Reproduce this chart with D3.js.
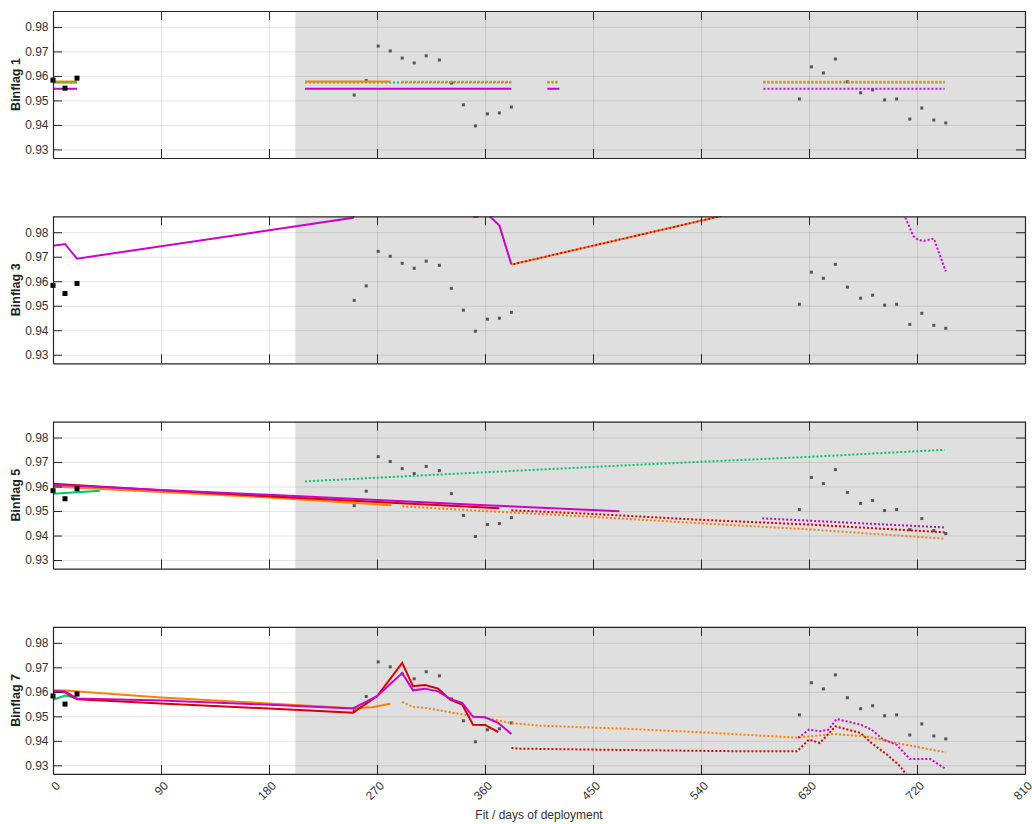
<!DOCTYPE html>
<html>
<head>
<meta charset="utf-8">
<script src="https://cdn.jsdelivr.net/npm/d3@7"></script>
<style>
  body { margin: 0; background: #fff; }
  text { font-family: "Liberation Sans", Arial, Helvetica, sans-serif; }
</style>
</head>
<body>
<svg id="chart" width="1032" height="824"></svg>
<script>

// reference samples (gray) and calibration points (black)
var ref_days = [251, 261, 271, 281, 291, 301, 311, 322, 332, 342, 352, 362, 372, 382,
                622, 632, 642, 652, 662, 673, 683, 693, 703, 714, 724, 734, 744];
var ref_vals = [0.9522, 0.9581, 0.9722, 0.9702, 0.9673, 0.9653, 0.9682, 0.9665, 0.9571, 0.9482, 0.9396, 0.9445, 0.9449, 0.9473,
                0.9506, 0.9637, 0.9612, 0.9669, 0.9576, 0.9531, 0.9543, 0.9502, 0.9506, 0.9424, 0.9469, 0.9420, 0.9408];
var cal_days = [0, 10, 20];
var cal_vals = [0.9583, 0.9550, 0.9591];

var x_ticks = [0, 90, 180, 270, 360, 450, 540, 630, 720, 810];
var y_ticks = [0.93, 0.94, 0.95, 0.96, 0.97, 0.98];
var shade_start = 202;

// fitted series, [day, value], null = gap
// Binflag 1
var bf1_green_solid   = [[0, 0.9573], [20, 0.9573]];
var bf1_green_dot     = [[210, 0.9573], [382, 0.9573], null, [412, 0.9573], [422, 0.9573], null, [592, 0.9573], [743, 0.9573]];
var bf1_orange_solid  = [[0, 0.9577], [20, 0.9577], null, [210, 0.9577], [281, 0.9577]];
var bf1_orange_dot    = [[291, 0.9576], [382, 0.9576], null, [412, 0.9576], [422, 0.9576], null, [592, 0.9576], [743, 0.9576]];
var bf1_magenta_solid = [[0, 0.9548], [20, 0.9548], null, [210, 0.9548], [382, 0.9548], null, [412, 0.9548], [422, 0.9548]];
var bf1_magenta_dot   = [[592, 0.9548], [743, 0.9548]];

// Binflag 3
var bf3_magenta_solid = [[0, 0.9745], [10, 0.9752], [20, 0.9692], [250, 0.9859], [262, 1.0], [345, 1.0], [351, 0.9862],
                         [354, 0.9863], [358, 0.990], [361, 0.990], [364, 0.9865], [372, 0.9827], [382, 0.9668]];
var bf3_extrap_dot    = [[382, 0.9668], [570, 0.9881]];
var bf3_magenta_dot   = [[709, 0.9875], [717, 0.9784], [721, 0.9768], [726, 0.9765], [734, 0.9774], [744, 0.9640]];

// Binflag 5
var bf5_green_solid   = [[0, 0.9571], [20, 0.9577], [39, 0.9583]];
var bf5_green_dot     = [[210, 0.9621], [306, 0.9645], [450, 0.9680], [540, 0.9701], [630, 0.9721], [743, 0.9750]];
var bf5_orange_solid  = [[0, 0.9600], [90, 0.9578], [180, 0.9555], [282, 0.9524]];
var bf5_orange_dot    = [[291, 0.9519], [360, 0.9500], [450, 0.9476], [540, 0.9450], [630, 0.9425], [743, 0.9387]];
var bf5_red_solid     = [[0, 0.9611], [90, 0.9585], [180, 0.9560], [270, 0.9537], [372, 0.9511]];
var bf5_red_dot       = [[382, 0.9503], [450, 0.9488], [540, 0.9464], [630, 0.9445], [743, 0.9413]];
var bf5_magenta_solid = [[0, 0.9607], [90, 0.9586], [180, 0.9566], [270, 0.9545], [360, 0.9524], [472, 0.9499]];
var bf5_magenta_dot   = [[591, 0.9470], [743, 0.9433]];

// Binflag 7
var bf7_green_solid   = [[0, 0.9567], [10, 0.9585], [20, 0.9575]];
var bf7_orange_solid  = [[0, 0.9606], [10, 0.9605], [90, 0.9577], [180, 0.9552], [250, 0.9533], [266, 0.9537], [281, 0.9551]];
var bf7_orange_dot    = [[291, 0.9559], [300, 0.9538], [311, 0.9534], [334, 0.9514], [360, 0.9494], [381, 0.9473], [406, 0.9462],
                         [434, 0.9457], [473, 0.9450], [540, 0.9435], [620, 0.9413], [650, 0.9428], [678, 0.9418], [703, 0.9391], [744, 0.9353]];
var bf7_red_solid     = [[0, 0.9600], [10, 0.9598], [20, 0.9570], [90, 0.9552], [180, 0.9532], [250, 0.9515], [270, 0.9582],
                         [291, 0.9718], [300, 0.9623], [310, 0.9628], [321, 0.9613], [331, 0.9568], [341, 0.9548], [350, 0.9466],
                         [360, 0.9465], [371, 0.9436]];
var bf7_red_dot       = [[382, 0.9371], [390, 0.9368], [470, 0.9363], [560, 0.9358], [620, 0.9357], [630, 0.9405], [639, 0.9391],
                         [652, 0.9459], [673, 0.9432], [682, 0.9391], [695, 0.9344], [706, 0.9296], [712, 0.9255]];
var bf7_magenta_solid = [[0, 0.9603], [10, 0.9601], [20, 0.9573], [90, 0.9565], [180, 0.9547], [250, 0.9532], [270, 0.9582],
                         [291, 0.9677], [300, 0.9606], [310, 0.9613], [321, 0.9602], [331, 0.9571], [341, 0.9555], [350, 0.9498],
                         [360, 0.9496], [371, 0.9473], [382, 0.9428]];
var bf7_magenta_dot   = [[621, 0.9412], [630, 0.9446], [639, 0.9439], [646, 0.9445], [653, 0.9489], [673, 0.9466], [682, 0.9446],
                         [692, 0.9405], [703, 0.9384], [714, 0.9326], [731, 0.9326], [744, 0.9285]];

var GREEN = "#00c864", ORANGE = "#ff8000", RED = "#d40000", MAGENTA = "#cc00cc";

var panels = [
  { label: "Binflag 1", series: [
      { data: bf1_green_solid, color: GREEN },
      { data: bf1_green_dot, color: GREEN, dot: true },
      { data: bf1_orange_solid, color: ORANGE },
      { data: bf1_orange_dot, color: ORANGE, dot: true },
      { data: bf1_magenta_solid, color: MAGENTA },
      { data: bf1_magenta_dot, color: MAGENTA, dot: true } ] },
  { label: "Binflag 3", series: [
      { data: bf3_extrap_dot, color: ORANGE, dot: true },
      { data: bf3_extrap_dot, color: RED, dot: true, offset: 2 },
      { data: bf3_magenta_solid, color: MAGENTA },
      { data: bf3_magenta_dot, color: MAGENTA, dot: true } ] },
  { label: "Binflag 5", series: [
      { data: bf5_green_solid, color: GREEN },
      { data: bf5_green_dot, color: GREEN, dot: true },
      { data: bf5_orange_solid, color: ORANGE },
      { data: bf5_orange_dot, color: ORANGE, dot: true },
      { data: bf5_red_solid, color: RED },
      { data: bf5_red_dot, color: RED, dot: true },
      { data: bf5_magenta_solid, color: MAGENTA },
      { data: bf5_magenta_dot, color: MAGENTA, dot: true } ] },
  { label: "Binflag 7", series: [
      { data: bf7_green_solid, color: GREEN },
      { data: bf7_orange_solid, color: ORANGE },
      { data: bf7_orange_dot, color: ORANGE, dot: true },
      { data: bf7_red_solid, color: RED },
      { data: bf7_red_dot, color: RED, dot: true },
      { data: bf7_magenta_solid, color: MAGENTA },
      { data: bf7_magenta_dot, color: MAGENTA, dot: true } ] }
];

/// layout
var left = 53, plotW = 972, plotH = 147, firstTop = 11, step = 205.3;
var axisColor = "#262626", textColor = "#333";

var svg = d3.select("#chart");

var x = d3.scaleLinear().domain([0, 810]).range([0, plotW]);
var y = d3.scaleLinear().domain([0.9265, 0.9865]).range([plotH, 0]);

var line = d3.line()
    .defined(function(d) { return d !== null; })
    .x(function(d) { return x(d[0]); })
    .y(function(d) { return y(d[1]); });

panels.forEach(function(p, i) {
  var top = firstTop + i * step;
  var g = svg.append("g").attr("transform", "translate(" + left + "," + top + ")");

  svg.append("clipPath").attr("id", "clip" + i)
    .append("rect").attr("width", plotW).attr("height", plotH);

  // fit window shading
  g.append("rect")
    .attr("x", x(shade_start)).attr("y", 0)
    .attr("width", x(810) - x(shade_start)).attr("height", plotH)
    .attr("fill", "#dfdfdf");

  // grid
  g.append("g").attr("class", "grid")
    .attr("transform", "translate(0," + plotH + ")")
    .call(d3.axisBottom(x).tickValues(x_ticks).tickSize(-plotH).tickFormat(""))
    .call(function(s) { s.select(".domain").remove(); });
  g.append("g").attr("class", "grid")
    .call(d3.axisLeft(y).tickValues(y_ticks).tickSize(-plotW).tickFormat(""))
    .call(function(s) { s.select(".domain").remove(); });
  g.selectAll(".grid line").attr("stroke", "rgba(0,0,0,0.1)").attr("stroke-width", 1);

  var plot = g.append("g").attr("clip-path", "url(#clip" + i + ")");

  // reference samples
  plot.selectAll("rect.ref")
    .data(ref_days)
    .enter().append("rect")
      .attr("class", "ref")
      .attr("x", function(d) { return x(d) - 1.5; })
      .attr("y", function(d, j) { return y(ref_vals[j]) - 1.5; })
      .attr("width", 3).attr("height", 3)
      .attr("fill", "#555");

  // fits
  p.series.forEach(function(s) {
    plot.append("path")
      .datum(s.data)
      .attr("d", line)
      .attr("fill", "none")
      .attr("stroke", s.color)
      .attr("stroke-width", 2)
      .attr("stroke-dasharray", s.dot ? "2,2" : null)
      .attr("stroke-dashoffset", s.offset || 0);
  });

  // calibration points (not clipped, sit on the left edge)
  g.selectAll("rect.cal")
    .data(cal_days)
    .enter().append("rect")
      .attr("class", "cal")
      .attr("x", function(d) { return x(d) - 2.5; })
      .attr("y", function(d, j) { return y(cal_vals[j]) - 2.5; })
      .attr("width", 5).attr("height", 5)
      .attr("fill", "#000");

  // box with inward ticks
  var ax = [
    g.append("g").attr("transform", "translate(0," + plotH + ")")
      .call(d3.axisBottom(x).tickValues(x_ticks).tickSizeInner(-9).tickSizeOuter(0).tickFormat("")),
    g.append("g")
      .call(d3.axisTop(x).tickValues(x_ticks).tickSizeInner(-9).tickSizeOuter(0).tickFormat("")),
    g.append("g")
      .call(d3.axisLeft(y).tickValues(y_ticks).tickSizeInner(-9).tickSizeOuter(0).tickPadding(4.5).tickFormat(d3.format(".2f"))),
    g.append("g").attr("transform", "translate(" + plotW + ",0)")
      .call(d3.axisRight(y).tickValues(y_ticks).tickSizeInner(-9).tickSizeOuter(0).tickFormat(""))
  ];
  ax.forEach(function(a) {
    a.selectAll("path.domain").attr("stroke", axisColor).attr("stroke-width", 1.2);
    a.selectAll("line").attr("stroke", axisColor);
    a.selectAll("text").attr("fill", textColor).style("font-size", "12px");
  });

  // x tick labels only on last panel
  if (i === panels.length - 1) {
    g.append("g").selectAll("text")
      .data(x_ticks)
      .enter().append("text")
        .attr("transform", function(d) { return "translate(" + (x(d) + 5) + "," + (plotH + 9.7) + ") rotate(-45)"; })
        .attr("text-anchor", "end")
        .attr("dy", "0.35em")
        .attr("fill", textColor)
        .style("font-size", "12px")
        .text(function(d) { return d; });

    g.append("text")
      .attr("x", plotW / 2)
      .attr("y", plotH + 45)
      .attr("text-anchor", "middle")
      .attr("fill", textColor)
      .style("font-size", "12px")
      .text("Fit / days of deployment");
  }

  // y label
  g.append("text")
    .attr("transform", "translate(" + (20 - left) + "," + (plotH / 2) + ") rotate(-90)")
    .attr("text-anchor", "middle")
    .attr("fill", "#222")
    .style("font-size", "12.5px")
    .style("font-weight", "bold")
    .text(p.label);
});

</script>
</body>
</html>
